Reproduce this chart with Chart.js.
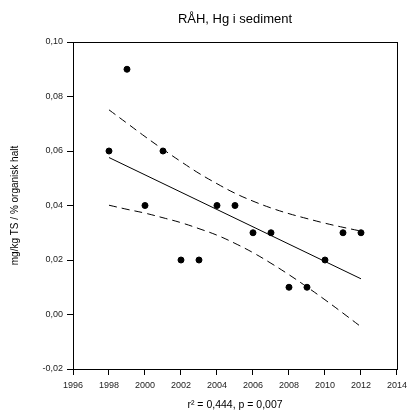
<!DOCTYPE html>
<html>
<head>
<meta charset="utf-8">
<script src="https://cdn.jsdelivr.net/npm/chart.js@4/dist/chart.umd.min.js"></script>
<style>
  html, body { margin: 0; padding: 0; background: #fff; }
  #wrap { width: 412px; height: 412px; }
</style>
</head>
<body>
<div id="wrap"><canvas id="chart"></canvas></div>
<script>
// Hg i sediment, RÅH
const years = [1998, 1999, 2000, 2001, 2002, 2003, 2004, 2005, 2006, 2007, 2008, 2009, 2010, 2011, 2012];
const hgValues = [0.06, 0.09, 0.04, 0.06, 0.02, 0.02, 0.04, 0.04, 0.03, 0.03, 0.01, 0.01, 0.02, 0.03, 0.03];

// regressionslinje (start/slut)
const trendYears = [1998, 2012];
const trendValues = [0.0576, 0.0131];

// 95 % konfidensintervall
const upperBand = [0.0751, 0.0702, 0.0653, 0.0606, 0.0561, 0.0518, 0.0480, 0.0445, 0.0416, 0.0391, 0.0370, 0.0352, 0.0335, 0.0320, 0.0306];
const lowerBand = [0.0401, 0.0386, 0.0372, 0.0355, 0.0337, 0.0315, 0.0291, 0.0261, 0.0227, 0.0188, 0.0146, 0.0101, 0.0054, 0.0005, -0.0045];

const xTicks = [1996, 1998, 2000, 2002, 2004, 2006, 2008, 2010, 2012, 2014];
const yTicks = [-0.02, 0.00, 0.02, 0.04, 0.06, 0.08, 0.10];

const toXY = (xs, ys) => xs.map((x, i) => ({ x: x, y: ys[i] }));

const FONT = "'Liberation Sans', Arial, sans-serif";

// ram runt hela plotytan
const frameBox = {
    id: 'frameBox',
    beforeDatasetsDraw(chart) {
        const { ctx, chartArea: a } = chart;
        ctx.save();
        ctx.strokeStyle = '#000';
        ctx.lineWidth = 1;
        ctx.strokeRect(a.left + 0.5, a.top + 0.5, a.right - a.left, a.bottom - a.top);
        ctx.restore();
    }
};

const bandStyle = {
    type: 'line',
    borderColor: '#000',
    borderWidth: 1,
    borderDash: [8, 5],
    pointRadius: 0,
    fill: false,
    tension: 0.4
};

new Chart(document.getElementById('chart'), {
    type: 'scatter',
    data: {
        datasets: [
            {
                label: 'Hg',
                data: toXY(years, hgValues),
                backgroundColor: '#000',
                borderColor: '#000',
                pointRadius: 3,
                pointHoverRadius: 3
            },
            {
                label: 'trend',
                type: 'line',
                data: toXY(trendYears, trendValues),
                borderColor: '#000',
                borderWidth: 1,
                pointRadius: 0,
                fill: false
            },
            Object.assign({ label: 'övre', data: toXY(years, upperBand) }, bandStyle),
            Object.assign({ label: 'undre', data: toXY(years, lowerBand) }, bandStyle)
        ]
    },
    plugins: [frameBox],
    options: {
        responsive: true,
        maintainAspectRatio: false,
        animation: false,
        layout: { padding: { left: 0, right: 11, top: 0, bottom: 0 } },
        plugins: {
            legend: { display: false },
            tooltip: { enabled: false },
            title: {
                display: true,
                fullSize: false,
                text: 'RÅH, Hg i sediment',
                color: '#000',
                font: { family: FONT, size: 13, weight: 'normal' },
                padding: { top: 12, bottom: 14.4 }
            }
        },
        scales: {
            x: {
                type: 'linear',
                min: 1996,
                max: 2014,
                afterBuildTicks: (scale) => { scale.ticks = xTicks.map(v => ({ value: v })); },
                afterFit: (scale) => { scale.height = 43; },
                border: { display: true, color: '#000', width: 1 },
                grid: { display: true, drawOnChartArea: false, drawTicks: true, tickLength: 6, color: '#000' },
                ticks: {
                    color: '#222',
                    padding: 5,
                    maxRotation: 0,
                    font: { family: FONT, size: 9 },
                    callback: (v) => String(v)
                },
                title: {
                    display: true,
                    text: 'r² = 0,444, p = 0,007',
                    color: '#000',
                    font: { family: FONT, size: 10.5 },
                    padding: { top: 0, bottom: 1 }
                }
            },
            y: {
                min: -0.02,
                max: 0.10,
                afterBuildTicks: (scale) => { scale.ticks = yTicks.map(v => ({ value: v })); },
                afterFit: (scale) => { scale.width = 73; },
                border: { display: true, color: '#000', width: 1 },
                grid: { display: true, drawOnChartArea: false, drawTicks: true, tickLength: 6, color: '#000' },
                ticks: {
                    color: '#222',
                    padding: 4,
                    font: { family: FONT, size: 9 },
                    callback: (v) => v.toFixed(2).replace('.', ',')
                },
                title: {
                    display: true,
                    text: 'mg/kg TS / % organisk halt',
                    color: '#000',
                    font: { family: FONT, size: 10 },
                    padding: { top: 9, bottom: 0 }
                }
            }
        }
    }
});
</script>
</body>
</html>
